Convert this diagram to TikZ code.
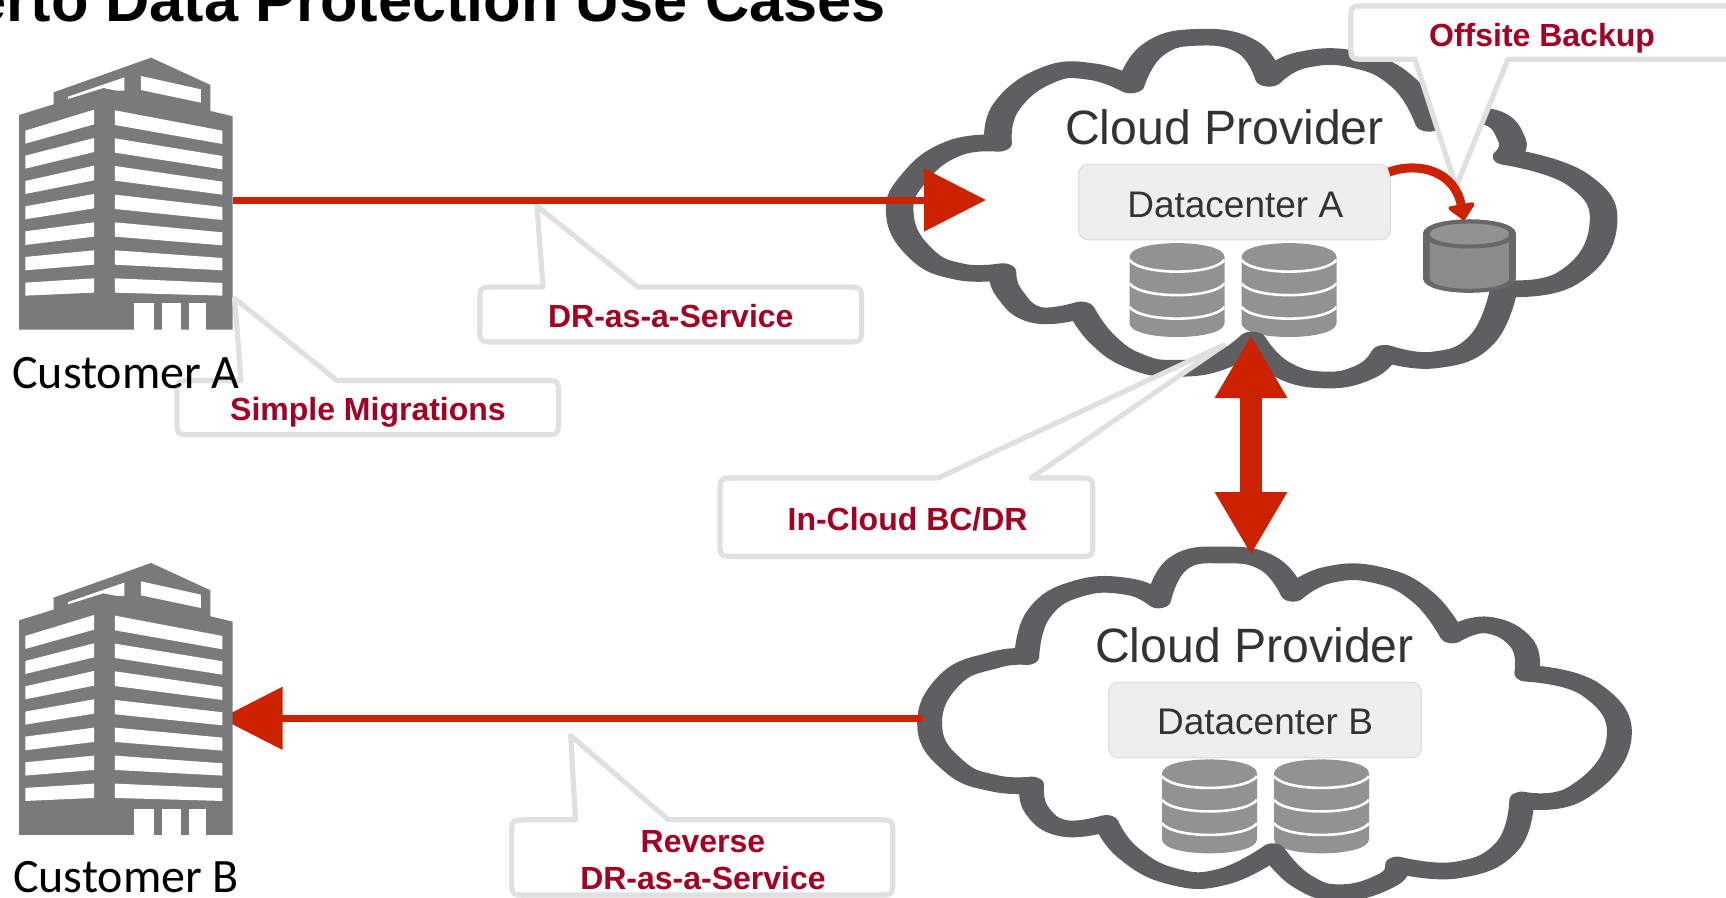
\documentclass[tikz,border=0pt]{standalone}
\usepackage{fontspec}
\setmainfont{Liberation Sans}
\newfontfamily\carlitofont{Carlito}
\usetikzlibrary{arrows.meta}
\definecolor{redarrow}{HTML}{CC2200}
\definecolor{labelred}{HTML}{A50021}
\definecolor{bldgray}{HTML}{7A7A7A}
\definecolor{cloudgray}{HTML}{5F5F61}
\definecolor{stackgray}{HTML}{929292}
\definecolor{calloutgray}{HTML}{E0E0E0}
\definecolor{dcfill}{HTML}{EEEEEE}
\definecolor{dcline}{HTML}{DEDEDE}
\definecolor{darktext}{HTML}{333333}
\tikzset{
  cloudline/.style={draw=cloudgray,line width=50pt,line join=round,line cap=round},
  calloutbox/.style={draw=calloutgray,fill=white,line width=5.2pt,line join=round},
  calloutlabel/.style={anchor=base,inner sep=0pt,text=labelred,font=\bfseries\fontsize{32}{36}\selectfont},
  cloudlabel/.style={anchor=base,inner sep=0pt,text=darktext,font=\fontsize{48.2}{52}\selectfont},
  dclabel/.style={anchor=base,inner sep=0pt,text=darktext,font=\fontsize{37}{40}\selectfont},
  custlabel/.style={anchor=base,inner sep=0pt,text=black,font=\carlitofont\fontsize{48}{52}\selectfont},
  dcbox/.style={draw=dcline,fill=dcfill,line width=1.2pt,rounded corners=10pt},
  thinarrow/.style={draw=redarrow,line width=7pt,-{Triangle[length=62pt,width=61.4pt,fill=redarrow]}},
  thickarrow/.style={draw=redarrow,line width=22pt,{Triangle[length=63pt,width=68pt,fill=redarrow]}-{Triangle[length=63pt,width=68pt,fill=redarrow]}},
  curvearrow/.style={draw=redarrow,line width=9pt,-{Triangle[length=17pt,width=31pt,fill=redarrow,round]}},
}
\newcommand{\buildingicon}[1]{%
\begin{scope}[shift={(0,#1)},xscale=0.3827,yscale=0.3333]
 \fill[bldgray] (50,345) -- (140,313) -- (140,277) -- (395,173) -- (550,255) -- (550,333) -- (608,349) -- (608,989) -- (50,989) -- cycle;
 \fill[white] (178,290) -- (325,232) -- (325,272) -- (305,272) -- (270,264) -- (178,297) -- cycle;
 \fill[white] (368,228) -- (525,268) -- (525,308) -- (368,270) -- cycle;
 \foreach \a/\b/\c/\d in {392/431/329/373,467/506/414/456,543/582/497/541,619/658/582/625,694/735/667/710,771/811/751/794,848/887/835/878}
   \fill[white] (66,\a) -- (246,\c) -- (246,\d) -- (66,\b) -- cycle;
 \foreach \a/\b/\c/\d in {331/375/392/432,415/458/468/508,498/542/545/584,584/627/621/660,667/710/697/736,751/794/774/811,835/878/849/887}
   \fill[white] (300,\a) -- (581,\c) -- (581,\d) -- (300,\b) -- cycle;
 \fill[white] (351,910) rectangle (403,989);
 \fill[white] (423,910) rectangle (472,989);
 \fill[white] (493,910) rectangle (537,989);
\end{scope}}
\newcommand{\stackicon}[2]{%
\begin{scope}[shift={(#1,#2)}]
 \fill[stackgray] (0,14) .. controls (0,-4.5) and (95,-4.5) .. (95,14) -- (95,80) .. controls (95,98.7) and (0,98.7) .. (0,80) -- cycle;
 \foreach \dy in {0,23.5,47}
  \draw[white,line width=2.6pt] (0,17+\dy) .. controls (12,32.5+\dy) and (83,32.5+\dy) .. (95,17+\dy);
\end{scope}}
% x1, y1 (pointer side), x2, y2, pointer base left, base right, tip x, tip y, sign
\newcommand{\calloutshape}[9]{%
 \draw[calloutbox] (#5,#2) -- (#7,#8) -- (#6,#2) -- ({#3-16},#2) .. controls (#3,#2) .. (#3,{#2+#9*16}) -- (#3,{#4-#9*16}) .. controls (#3,#4) .. ({#3-16},#4) -- ({#1+16},#4) .. controls (#1,#4) .. (#1,{#4-#9*16}) -- (#1,{#2+#9*16}) .. controls (#1,#2) .. ({#1+16},#2) -- cycle;}
\begin{document}
\begin{tikzpicture}[x=1pt,y=-1pt]
\useasboundingbox (0,0) rectangle (1726,897);
\clip (0,0) rectangle (1726,897);
\fill[white] (0,0) rectangle (1726,897);

% title
\node[anchor=base east,inner sep=0pt,font=\bfseries\fontsize{61.3}{66}\selectfont] (title) at (886,21) {erto Data Protection Use Cases};

% database stacks
\stackicon{1129.5}{243}
\stackicon{1241.5}{243}
\stackicon{1162}{759.3}
\stackicon{1274}{759.3}

% cloud A
\begin{scope}[transform canvas={shift={(860,0)},xscale=0.5525,yscale=0.3333}]
 \draw[cloudline] plot[smooth,tension=.8] coordinates {(250,430)(170,445)(100,530)(72,640)(110,760)(180,815)(258,815)}
  -- plot[smooth,tension=.8] coordinates {(258,815)(270,880)(320,945)(400,930)}
  -- plot[smooth,tension=.8] coordinates {(400,930)(440,1020)(500,1085)(570,1105)(650,1085)(710,1020)}
  -- plot[smooth,tension=.8] coordinates {(710,1020)(760,1105)(840,1140)(915,1115)(950,1060)}
  -- plot[smooth,tension=.8] coordinates {(950,1060)(1040,1080)(1125,1020)(1165,870)}
  -- plot[smooth,tension=.8] coordinates {(1165,865)(1280,835)(1345,680)(1300,540)(1170,470)}
  -- plot[smooth,tension=.8] coordinates {(1170,470)(1180,420)(1135,350)(1030,370)}
  -- plot[smooth,tension=.8] coordinates {(1030,370)(985,250)(900,180)(800,180)(740,235)}
  -- plot[smooth,tension=.8] coordinates {(740,235)(700,140)(610,112)(530,150)(490,255)}
  -- plot[smooth,tension=.8] coordinates {(490,255)(420,215)(340,225)(265,320)(250,430)};
 % offsite cylinder
 \draw[draw=cloudgray!95!white,fill=stackgray!95!black,line width=12pt] (1025,702) .. controls (1025,652) and (1181,652) .. (1181,702) -- (1181,835) .. controls (1181,885) and (1025,885) .. (1025,835) -- cycle;
 \draw[draw=cloudgray!95!white,fill=stackgray,line width=12pt] (1025,702) .. controls (1025,652) and (1181,652) .. (1181,702) .. controls (1181,752) and (1025,752) .. (1025,702) -- cycle;
\end{scope}

% cloud B
\begin{scope}[transform canvas={shift={(880,500)},xscale=0.4975,yscale=0.3333}]
 \draw[cloudline] plot[smooth,tension=.8] coordinates {(295,470)(230,480)(140,540)(100,680)(150,800)(230,850)(305,855)}
  -- plot[smooth,tension=.8] coordinates {(305,855)(315,930)(370,985)(455,970)}
  -- plot[smooth,tension=.8] coordinates {(455,970)(500,1060)(590,1130)(690,1130)(790,1055)}
  -- plot[smooth,tension=.8] coordinates {(790,1055)(850,1145)(930,1178)(1020,1140)(1040,1095)}
  -- plot[smooth,tension=.8] coordinates {(1040,1095)(1160,1110)(1260,1040)(1290,900)}
  -- plot[smooth,tension=.8] coordinates {(1290,900)(1400,880)(1485,720)(1430,570)(1300,520)}
  -- plot[smooth,tension=.8] coordinates {(1300,520)(1290,430)(1220,375)(1150,405)}
  -- plot[smooth,tension=.8] coordinates {(1150,405)(1090,290)(1000,225)(900,225)(830,280)}
  -- plot[smooth,tension=.8] coordinates {(830,280)(780,190)(690,165)(600,190)(560,300)}
  -- plot[smooth,tension=.8] coordinates {(560,300)(500,260)(400,265)(320,340)(295,470)};
\end{scope}

% datacenter boxes and labels
\draw[dcbox] (1078.5,164.5) rectangle (1390.4,239.8);
\draw[dcbox] (1108.4,682.2) rectangle (1421.3,757.8);
\node[cloudlabel] (provA) at (1224.5,144) {Cloud Provider};
\node[cloudlabel] (provB) at (1254.5,662.7) {Cloud Provider};
\node[dclabel] (dcA) at (1235.3,217.7) {Datacenter A};
\node[dclabel] (dcB) at (1265,734) {Datacenter B};

% connectors
\coordinate (custAport) at (232.7,200);
\coordinate (cloudAtip) at (986,200);
\coordinate (cloudBport) at (923,718.3);
\coordinate (custBtip) at (220.6,718.3);
\coordinate (dblTop) at (1251,335);
\coordinate (dblBot) at (1251,555);
\coordinate (curveStart) at (1389,172);
\coordinate (curveEnd) at (1464,220);
\draw[thinarrow] (cloudBport) -- (custBtip);

% buildings
\buildingicon{0}
\buildingicon{505.3}

% callouts
\calloutshape{479.7}{287}{861.6}{342}{543}{638}{537}{206}{1}
\calloutshape{177}{380.4}{558.6}{434.8}{241}{336.8}{234.6}{298.3}{1}
\calloutshape{720}{478}{1092.8}{556.5}{938}{1031}{1224}{345}{1}
\calloutshape{511.6}{819.8}{892.8}{895}{575.5}{668.5}{570.7}{735.7}{1}
\calloutshape{1350.7}{59.3}{1745}{6}{1415}{1508}{1456}{186.7}{-1}

% arrows on top
\draw[thinarrow] (custAport) -- (cloudAtip);
\draw[thickarrow] (dblTop) -- (dblBot);
\draw[curvearrow] (curveStart) .. controls (1420,161) and (1455,172) .. (curveEnd);

% labels
\node[calloutlabel] (lblDR) at (670.8,327.7) {DR-as-a-Service};
\node[calloutlabel] (lblSM) at (368,420.3) {Simple Migrations};
\node[calloutlabel] (lblIC) at (907.6,530.3) {In-Cloud BC/DR};
\node[calloutlabel] (lblOB) at (1542,46) {Offsite Backup};
\node[calloutlabel] (lblRV) at (703,852.7) {Reverse};
\node[calloutlabel] (lblRD) at (703,889.3) {DR-as-a-Service};
\node[custlabel] (custA) at (126,388) {Customer A};
\node[custlabel] (custB) at (126,892) {Customer B};
\end{tikzpicture}
\end{document}
